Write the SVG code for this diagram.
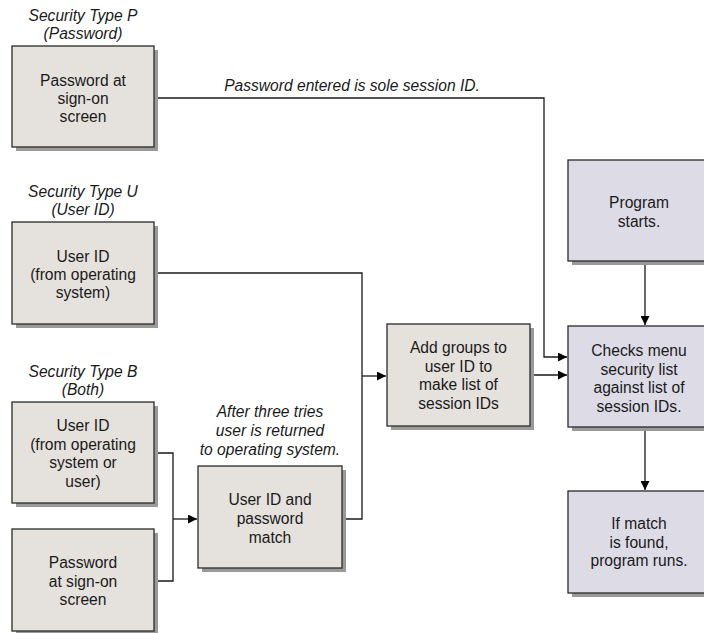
<svg xmlns="http://www.w3.org/2000/svg" width="704" height="633" viewBox="0 0 704 633">
<defs>
<style>
text{font-family:"Liberation Sans",Arial,sans-serif;font-size:15.6px;fill:#1a1a1a;text-anchor:middle}
.lbl{font-style:italic}
.sh{fill:#9a9a9a}
.bg{fill:#e5e1dc;stroke:#2a2a2a;stroke-width:1.3}
.bp{fill:#dddbe6;stroke:#2a2a2a;stroke-width:1.3}
.ln{fill:none;stroke:#1a1a1a;stroke-width:1.3}
</style>
<marker id="ah" viewBox="0 0 10 10" refX="10" refY="5" markerWidth="10" markerHeight="9" markerUnits="userSpaceOnUse" orient="auto">
<path d="M0,0 L10,5 L0,10 Z" fill="#000"/>
</marker>
</defs>
<rect width="704" height="633" fill="#fff"/>

<g id="connectors">
<polyline class="ln" points="154,98 544,98 544,357 567,357" marker-end="url(#ah)"/>
<polyline class="ln" points="154,273 362,273 362,519 342,519"/>
<polyline class="ln" points="362,376 386,376" marker-end="url(#ah)"/>
<polyline class="ln" points="154,453 173,453 173,581 154,581"/>
<polyline class="ln" points="173,519 197,519" marker-end="url(#ah)"/>
<polyline class="ln" points="530,375 567,375" marker-end="url(#ah)"/>
<polyline class="ln" points="645,261 645,325" marker-end="url(#ah)"/>
<polyline class="ln" points="645,428 645,490" marker-end="url(#ah)"/>
<text class="lbl" x="352" y="91">Password entered is sole session ID.</text>
</g>

<g id="typeP">
<text class="lbl" x="83" y="21">Security Type P</text>
<text class="lbl" x="83" y="39">(Password)</text>
<rect class="sh" x="16" y="50" width="142" height="101"/>
<rect class="bg" x="12" y="46" width="142" height="101"/>
<text x="83" y="86">Password at</text>
<text x="83" y="104">sign-on</text>
<text x="83" y="122">screen</text>
</g>

<g id="typeU">
<text class="lbl" x="83" y="197">Security Type U</text>
<text class="lbl" x="83" y="215">(User ID)</text>
<rect class="sh" x="16" y="226" width="142" height="102"/>
<rect class="bg" x="12" y="222" width="142" height="102"/>
<text x="83" y="262">User ID</text>
<text x="83" y="280">(from operating</text>
<text x="83" y="298">system)</text>
</g>

<g id="typeB-user">
<text class="lbl" x="83" y="377">Security Type B</text>
<text class="lbl" x="83" y="395">(Both)</text>
<rect class="sh" x="16" y="406" width="142" height="101"/>
<rect class="bg" x="12" y="402" width="142" height="101"/>
<text x="83" y="431">User ID</text>
<text x="83" y="449.5">(from operating</text>
<text x="83" y="468">system or</text>
<text x="83" y="486.5">user)</text>
</g>

<g id="typeB-password">
<rect class="sh" x="16" y="533" width="142" height="102"/>
<rect class="bg" x="12" y="529" width="142" height="102"/>
<text x="83" y="568">Password</text>
<text x="83" y="586.5">at sign-on</text>
<text x="83" y="605">screen</text>
</g>

<g id="match">
<text class="lbl" x="270" y="417">After three tries</text>
<text class="lbl" x="270" y="436">user is returned</text>
<text class="lbl" x="270" y="455">to operating system.</text>
<rect class="sh" x="202" y="470" width="144" height="102"/>
<rect class="bg" x="198" y="466" width="144" height="102"/>
<text x="270" y="505">User ID and</text>
<text x="270" y="524">password</text>
<text x="270" y="543">match</text>
</g>

<g id="addgroups">
<rect class="sh" x="391" y="328" width="143" height="102"/>
<rect class="bg" x="387" y="324" width="143" height="102"/>
<text x="458.5" y="353">Add groups to</text>
<text x="458.5" y="371.5">user ID to</text>
<text x="458.5" y="390">make list of</text>
<text x="458.5" y="408.5">session IDs</text>
</g>

<g id="start">
<rect class="sh" x="572" y="164" width="142" height="101"/>
<rect class="bp" x="568" y="160" width="142" height="101"/>
<text x="639" y="208">Program</text>
<text x="639" y="226.5">starts.</text>
</g>

<g id="checks">
<rect class="sh" x="572" y="330" width="142" height="101"/>
<rect class="bp" x="568" y="326" width="142" height="101"/>
<text x="639" y="356">Checks menu</text>
<text x="639" y="374.5">security list</text>
<text x="639" y="393">against list of</text>
<text x="639" y="411.5">session IDs.</text>
</g>

<g id="runs">
<rect class="sh" x="572" y="495" width="142" height="102"/>
<rect class="bp" x="568" y="491" width="142" height="102"/>
<text x="639" y="529">If match</text>
<text x="639" y="547.5">is found,</text>
<text x="639" y="566">program runs.</text>
</g>
</svg>
